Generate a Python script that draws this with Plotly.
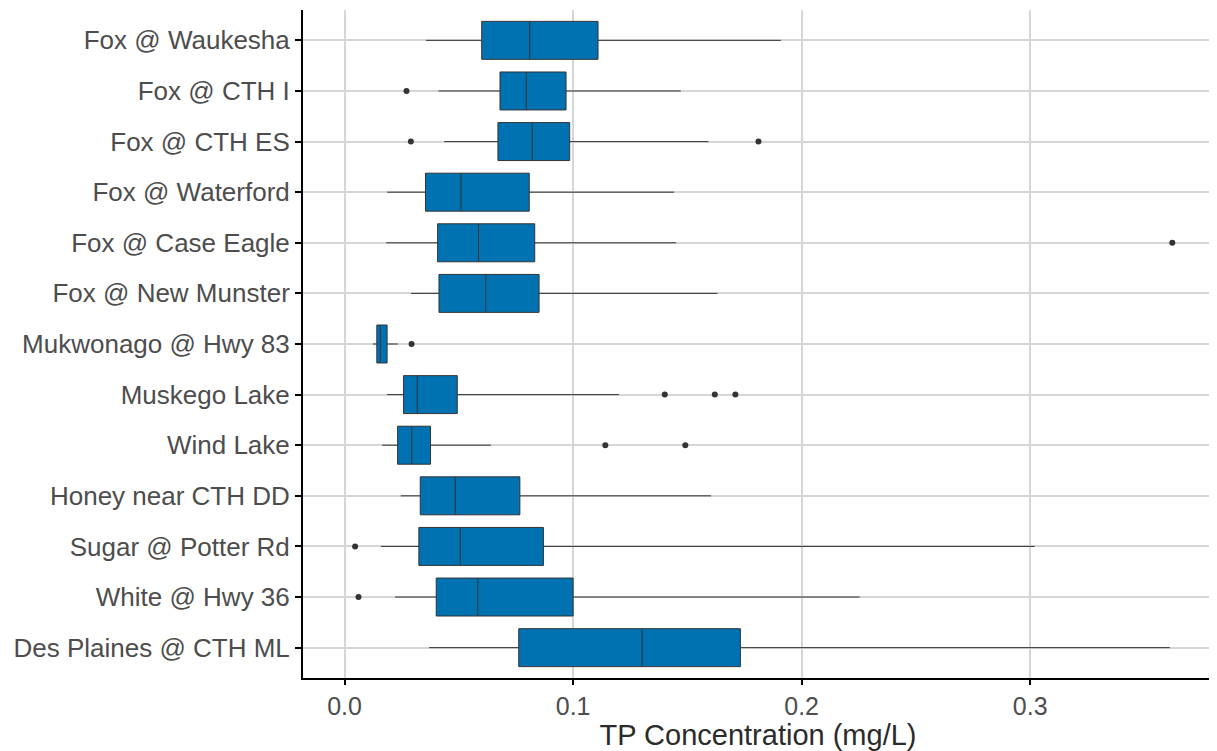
import plotly.graph_objects as go

sites = ["Fox @ Waukesha", "Fox @ CTH I", "Fox @ CTH ES", "Fox @ Waterford",
         "Fox @ Case Eagle", "Fox @ New Munster", "Mukwonago @ Hwy 83",
         "Muskego Lake", "Wind Lake", "Honey near CTH DD", "Sugar @ Potter Rd",
         "White @ Hwy 36", "Des Plaines @ CTH ML"]

lower_whisker = [0.0356, 0.0411, 0.0436, 0.0186, 0.0182, 0.0291, 0.0124,
                 0.0186, 0.0164, 0.0246, 0.0159, 0.0221, 0.0370]
q1 = [0.0600, 0.0680, 0.0671, 0.0354, 0.0407, 0.0413, 0.0141,
      0.0258, 0.0232, 0.0331, 0.0325, 0.0401, 0.0762]
median = [0.0810, 0.0795, 0.0821, 0.0509, 0.0586, 0.0618, 0.0156,
          0.0318, 0.0294, 0.0484, 0.0506, 0.0583, 0.1302]
q3 = [0.1109, 0.0969, 0.0985, 0.0808, 0.0832, 0.0851, 0.0186,
      0.0493, 0.0376, 0.0767, 0.0870, 0.1000, 0.1732]
upper_whisker = [0.1909, 0.1471, 0.1592, 0.1442, 0.1451, 0.1632, 0.0233,
                 0.1201, 0.0640, 0.1603, 0.3020, 0.2254, 0.3611]

outlier_site = ["Fox @ CTH I", "Fox @ CTH ES", "Fox @ CTH ES", "Fox @ Case Eagle",
                "Mukwonago @ Hwy 83", "Muskego Lake", "Muskego Lake", "Muskego Lake",
                "Wind Lake", "Wind Lake", "Sugar @ Potter Rd", "White @ Hwy 36"]
outlier_value = [0.0271, 0.0290, 0.1811, 0.3622, 0.0293, 0.1401, 0.1620, 0.1710,
                 0.1141, 0.1491, 0.0046, 0.0061]

x_ticks = [0.0, 0.1, 0.2, 0.3]
x_tick_labels = ["0.0", "0.1", "0.2", "0.3"]

fig = go.Figure()
fig.add_trace(go.Box(
    y=sites, q1=q1, median=median, q3=q3,
    lowerfence=lower_whisker, upperfence=upper_whisker,
    orientation="h", width=0.75, whiskerwidth=0,
    fillcolor="#0072B2", line=dict(color="#333333", width=1),
    boxpoints=False, showlegend=False, hoverinfo="x+y"))
fig.add_trace(go.Scatter(
    x=outlier_value, y=outlier_site, mode="markers",
    marker=dict(color="#333333", size=6), showlegend=False))

# page body has an 8px margin, so the figure is sized/offset to compensate
fig.update_layout(
    width=1209, height=743,
    margin=dict(l=295, r=4, t=2, b=73),
    plot_bgcolor="white", paper_bgcolor="white",
    font=dict(family="Liberation Sans, Arial, sans-serif", color="#4D4D4D"),
)
fig.update_xaxes(
    range=[-0.0182, 0.380], tickvals=x_ticks, ticktext=x_tick_labels,
    showgrid=True, gridcolor="#D6D6D6", gridwidth=2, zeroline=False,
    showline=True, linecolor="black", linewidth=2,
    ticks="outside", ticklen=5, tickwidth=2, tickcolor="black",
    tickfont=dict(size=25, color="#4D4D4D"),
    title=dict(text="TP Concentration (mg/L)", font=dict(size=29, color="#2b2b2b"), standoff=4),
)
fig.update_yaxes(
    type="category", categoryorder="array", categoryarray=sites,
    range=[12.6, -0.6],
    showgrid=True, gridcolor="#D6D6D6", gridwidth=2, zeroline=False,
    showline=True, linecolor="black", linewidth=2,
    ticks="outside", ticklen=6, tickwidth=2, tickcolor="black",
    ticklabelstandoff=0,
    tickfont=dict(size=26, color="#4D4D4D"),
)

fig.write_html("out.html")
